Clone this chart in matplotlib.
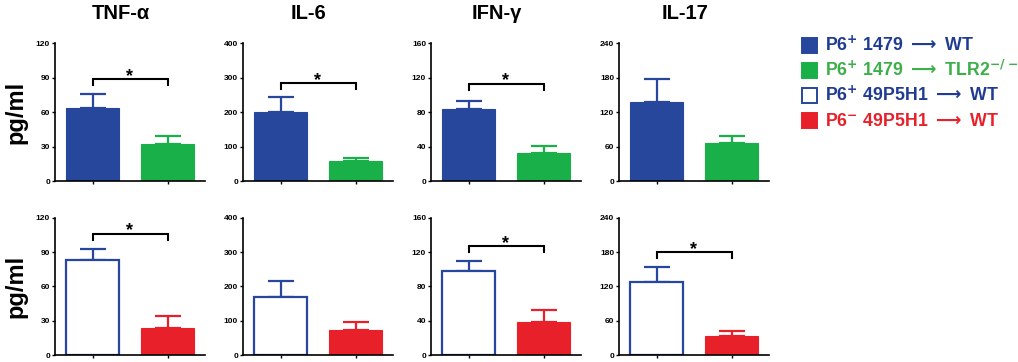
import matplotlib
matplotlib.use('Agg')
import matplotlib.pyplot as plt
from matplotlib.patches import Rectangle

plt.rcParams['font.family'] = ['Liberation Sans', 'DejaVu Sans']
plt.rcParams['font.weight'] = 'bold'

# 数据
cytokines = ['TNF-α', 'IL-6', 'IFN-γ', 'IL-17']
ymax = [120, 400, 160, 240]

top_mean_wt = [64, 201, 83.5, 137]
top_sem_wt = [11.5, 43, 10, 40]
top_mean_tlr2 = [32, 58, 32, 65.5]
top_sem_tlr2 = [7, 9, 9, 13.5]
top_sig = [89, 285, 113, None]

bot_mean_pos = [83, 169, 98, 127]
bot_sem_pos = [9.4, 46, 11.5, 27]
bot_mean_neg = [24, 73, 38, 34]
bot_sem_neg = [10.5, 22, 14, 8]
bot_sig = [106, None, 127, 180]

arrow = r'$\longrightarrow$'
pos = r'$^{\mathbf{+}}$'
neg = r'$^{\mathbf{-}}$'
legend_labels = ['P6' + pos + ' 1479 ' + arrow + ' WT',
                 'P6' + pos + ' 1479 ' + arrow + r' TLR2$^{\mathbf{-/-}}$',
                 'P6' + pos + ' 49P5H1 ' + arrow + ' WT',
                 'P6' + neg + ' 49P5H1 ' + arrow + ' WT']

blue = '#26479C'
green = '#19B04A'
red = '#E8202A'
txt_blue = '#1F3C92'
txt_green = '#3DAF49'

W, H = 1018, 362
fig = plt.figure(figsize=(W / 100, H / 100), dpi=100)
lefts = [55, 243, 431, 619]


def panel(ax, means, sems, colors, fills, ym, sig):
    x = [0, 1]
    for i in range(2):
        ax.bar(x[i], means[i], width=0.7,
               color=colors[i] if fills[i] else 'white',
               edgecolor=colors[i], linewidth=1.6 if not fills[i] else 0.8,
               zorder=2)
        ax.errorbar(x[i], means[i], yerr=[[0], [sems[i]]], fmt='none',
                    ecolor=colors[i], elinewidth=1.6, capsize=9.5,
                    capthick=1.6, zorder=1)
    if sig is not None:
        d = 0.045 * ym
        ax.plot([0, 0, 1, 1], [sig - d, sig, sig, sig - d], color='black',
                lw=1.5, solid_joinstyle='miter')
        ax.annotate('*', (0.5, sig), xytext=(0, 2), textcoords='offset points',
                    ha='center', va='center', fontsize=13, fontweight='bold')
    ax.set_xlim(-0.5, 1.5)
    ax.set_ylim(0, ym)
    ax.set_yticks([ym * k / 4 for k in range(5)])
    ax.set_yticklabels([f'{int(ym * k / 4)}' for k in range(5)])
    ax.set_xticks(x)
    ax.set_xticklabels([])
    for s in ['top', 'right']:
        ax.spines[s].set_visible(False)
    for s in ['left', 'bottom']:
        ax.spines[s].set_linewidth(1.2)
    ax.tick_params(axis='y', length=2.5, width=1, pad=1, labelsize=6)
    ax.tick_params(axis='x', length=2.5, width=1)
    for lab in ax.get_yticklabels():
        lab.set_fontweight('bold')


for j in range(4):
    ax = fig.add_axes([lefts[j] / W, (H - 181) / H, 150 / W, 137.7 / H])
    panel(ax, [top_mean_wt[j], top_mean_tlr2[j]], [top_sem_wt[j], top_sem_tlr2[j]],
          [blue, green], [True, True], ymax[j], top_sig[j])
    ax.text(0.44, 1 + 30 / 137.7, cytokines[j], transform=ax.transAxes,
            ha='center', va='center', fontsize=14.5, fontweight='bold')
    if j == 0:
        ax.set_ylabel('pg/ml', fontsize=17, fontweight='bold', labelpad=6)

    ax2 = fig.add_axes([lefts[j] / W, (H - 355) / H, 150 / W, 137.3 / H])
    panel(ax2, [bot_mean_pos[j], bot_mean_neg[j]], [bot_sem_pos[j], bot_sem_neg[j]],
          [blue, red], [False, True], ymax[j], bot_sig[j])
    if j == 0:
        ax2.set_ylabel('pg/ml', fontsize=17, fontweight='bold', labelpad=6)

# 图例
box_face = [blue, green, 'white', red]
box_edge = [blue, green, blue, red]
text_colors = [txt_blue, txt_green, txt_blue, red]
for i, lab in enumerate(legend_labels):
    yc = 45 + 25 * i
    fig.add_artist(Rectangle((802 / W, 1 - (yc + 7.5) / H), 15 / W, 15 / H,
                             transform=fig.transFigure, facecolor=box_face[i],
                             edgecolor=box_edge[i], linewidth=1.4))
    fig.text(825 / W, 1 - (yc + 6) / H, lab, color=text_colors[i],
             fontsize=12.8, fontweight='bold', ha='left', va='baseline')

fig.savefig('out.png', dpi=100)
